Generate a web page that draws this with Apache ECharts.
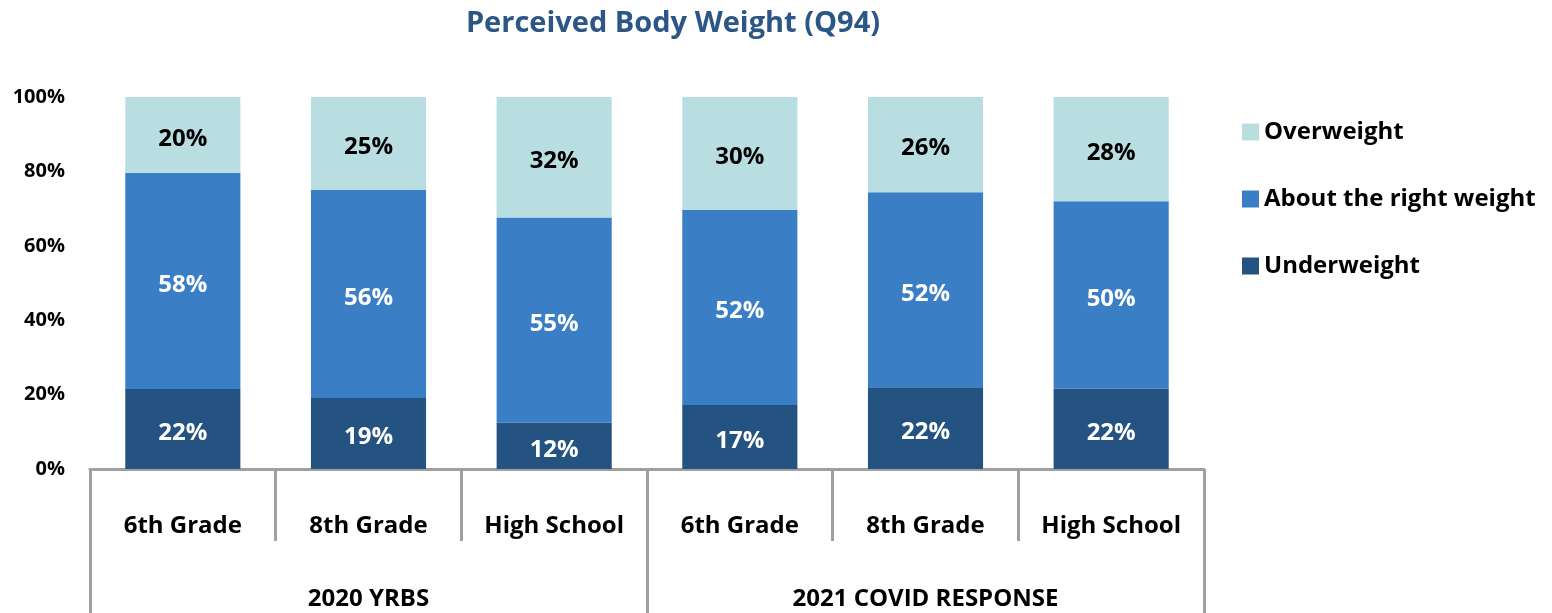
<!DOCTYPE html>
<html>
<head>
<meta charset="utf-8">
<script src="https://cdn.jsdelivr.net/npm/echarts@6/dist/echarts.min.js"></script>
<style>
  html, body { margin: 0; padding: 0; background: #fff; }
  #main { width: 1552px; height: 613px; }
</style>
</head>
<body>
<div id="main"></div>
<script>
var categories = ['6th Grade', '8th Grade', 'High School', '6th Grade', '8th Grade', 'High School'];
var groups = ['2020 YRBS', '2021 COVID RESPONSE'];
var underweight = [21.5, 19.1, 12.4, 17.2, 22.0, 21.6];
var aboutRight = [58.1, 55.9, 55.2, 52.4, 52.4, 50.4];
var overweight = [20.4, 25.0, 32.4, 30.4, 25.6, 28.0];

var font = '"Open Sans", "Liberation Sans", sans-serif';
var gray = '#a0a0a0';

function pct(p) {
	return Math.round(p.value) + '%';
}

var myChart = echarts.init(document.getElementById('main'));

myChart.setOption({
	animation: false,
	title: {
		text: 'Perceived Body Weight (Q94)',
		left: 668,
		top: 4,
		textAlign: 'center',
		textStyle: { color: '#2b5686', fontSize: 29, fontWeight: 'bold', fontFamily: font }
	},

	legend: {
		orient: 'vertical',
		left: 1237,
		top: 115,
		itemWidth: 17,
		itemHeight: 17,
		itemGap: 43,
		icon: 'rect',
		data: ['Overweight', 'About the right weight', 'Underweight'],
		textStyle: { fontSize: 24, fontWeight: 'bold', color: '#000', fontFamily: font }
	},

	grid: { left: 90, right: 348, top: 97, bottom: 144 },

	xAxis: [
		{
			type: 'category',
			data: categories,
			axisLine: { lineStyle: { color: gray, width: 3 } },
			axisTick: { show: true, interval: 0, length: 72, lineStyle: { color: gray, width: 3 } },
			axisLabel: { interval: 0, margin: 45, fontSize: 24, fontWeight: 'bold', color: '#000', fontFamily: font }
		},
		{
			type: 'category',
			position: 'bottom',
			data: groups,
			axisLine: { show: false },
			axisTick: { show: true, interval: 0, length: 150, lineStyle: { color: gray, width: 3 } },
			axisLabel: { interval: 0, margin: 118, fontSize: 24, fontWeight: 'bold', color: '#000', fontFamily: font }
		}
	],

	yAxis: {
		type: 'value',
		min: 0,
		max: 100,
		interval: 20,
		axisLine: { show: false },
		axisTick: { show: false },
		splitLine: { show: false },
		axisLabel: { formatter: '{value}%', margin: 25, fontSize: 20, fontWeight: 'bold', color: '#000', fontFamily: font }
	},

	series: [
		{
			name: 'Underweight',
			type: 'bar',
			stack: 'all',
			barWidth: '62%',
			itemStyle: { color: '#245382' },
			label: { show: true, offset: [0, 4], formatter: pct, color: '#fff', fontSize: 24, fontWeight: 'bold', fontFamily: font },
			data: underweight
		},
		{
			name: 'About the right weight',
			type: 'bar',
			stack: 'all',
			itemStyle: { color: '#3a7ec6' },
			label: { show: true, offset: [0, 4], formatter: pct, color: '#fff', fontSize: 24, fontWeight: 'bold', fontFamily: font },
			data: aboutRight
		},
		{
			name: 'Overweight',
			type: 'bar',
			stack: 'all',
			itemStyle: { color: '#b9dee2' },
			label: { show: true, offset: [0, 4], formatter: pct, color: '#000', fontSize: 24, fontWeight: 'bold', fontFamily: font },
			data: overweight
		}
	]
});
</script>
</body>
</html>
